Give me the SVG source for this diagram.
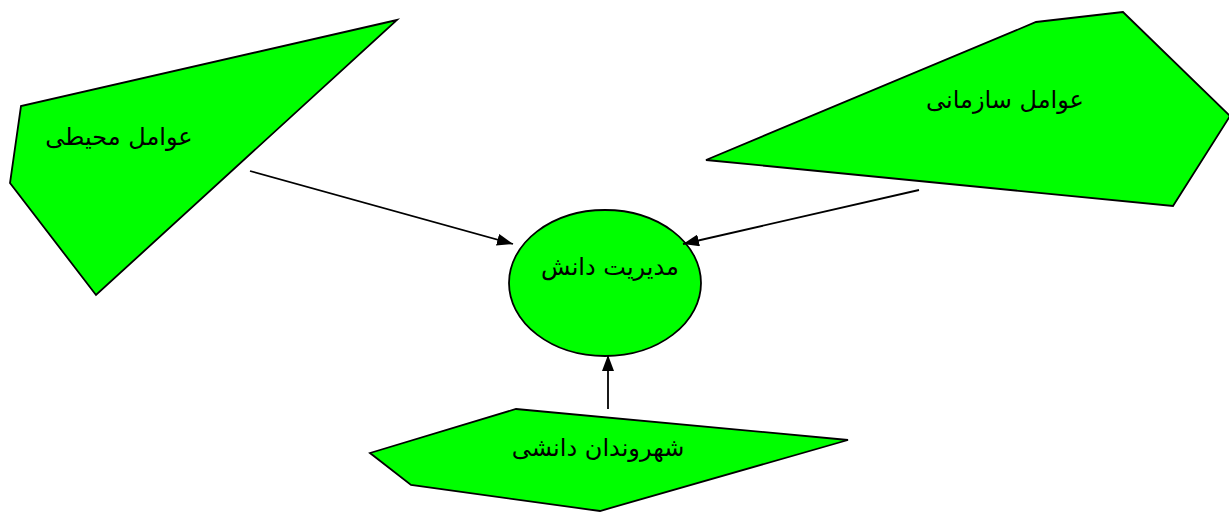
<svg xmlns="http://www.w3.org/2000/svg" width="1229" height="512" viewBox="0 0 1229 512">
<style>
.shape{fill:#00ff00;stroke:#000;stroke-width:1.8;stroke-linejoin:miter}
.lbl{font-family:"DejaVu Sans",sans-serif;font-size:24px;fill:#000;text-anchor:middle}
.conn{stroke:#000;stroke-width:1.8;fill:none;marker-end:url(#arr)}
</style>
<defs>
<marker id="arr" viewBox="0 0 16 12" refX="16" refY="6" markerWidth="16" markerHeight="12" markerUnits="userSpaceOnUse" orient="auto">
<path d="M0,0 L16,6 L0,12 Z" fill="#000"/>
</marker>
</defs>
<rect width="1229" height="512" fill="#fff"/>
<g id="env">
<polygon class="shape" points="397,20 21,106 10,183 96,295"/>
<text class="lbl" x="119" y="145">عوامل محیطی</text>
</g>
<g id="org">
<polygon class="shape" points="1123,12 1036,22 706,160 1173,206 1230,116"/>
<text class="lbl" x="1005" y="108">عوامل سازمانی</text>
</g>
<g id="km">
<ellipse class="shape" cx="605" cy="283" rx="96" ry="73"/>
<text class="lbl" x="610" y="275">مدیریت دانش</text>
</g>
<g id="cit">
<polygon class="shape" points="516,409 848,440 600,511 411,485 370,453"/>
<text class="lbl" x="598" y="456">شهروندان دانشی</text>
</g>
<g id="connectors">
<line class="conn" x1="250" y1="171" x2="513" y2="244"/>
<line class="conn" x1="919" y1="190" x2="683" y2="244"/>
<line class="conn" x1="608" y1="409" x2="608" y2="355"/>
</g>
</svg>
